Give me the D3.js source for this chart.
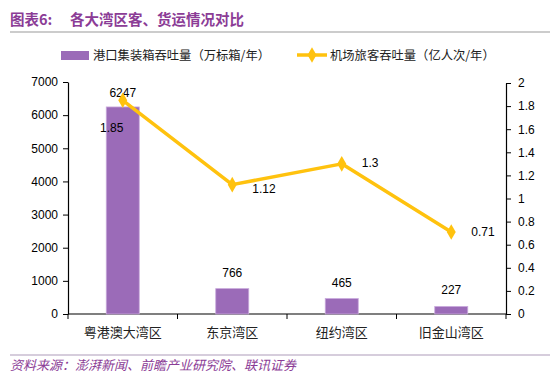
<!DOCTYPE html>
<html>
<head>
<meta charset="utf-8">
<script src="https://cdn.jsdelivr.net/npm/d3@7"></script>
<style>
  body { margin: 0; background: #fff; }
  svg { display: block; font-family: "Liberation Sans", "Noto Sans CJK SC", sans-serif; }
</style>
</head>
<body>
<div id="chart"></div>
<script>
// 数据
const categories = ["粤港澳大湾区", "东京湾区", "纽约湾区", "旧金山湾区"];
const portTeu = [6247, 766, 465, 227];          // 港口集装箱吞吐量（万标箱/年）
const airPassengers = [1.85, 1.12, 1.3, 0.71];  // 机场旅客吞吐量（亿人次/年）
const leftTicks = [0, 1000, 2000, 3000, 4000, 5000, 6000, 7000];
const rightTicks = [0, 0.2, 0.4, 0.6, 0.8, 1, 1.2, 1.4, 1.6, 1.8, 2];

const W = 550, H = 379;
const purple = "#9B6BB8";
const yellow = "#FFC20E";
const titleColor = "#8B3C96";
const cjk = '"Noto Sans CJK SC", sans-serif';

const svg = d3.select("#chart").append("svg")
    .attr("width", W).attr("height", H);

// 标题
svg.append("text").attr("x", 10).attr("y", 25)
    .attr("fill", titleColor).attr("font-size", 14.5).attr("font-weight", "bold")
    .attr("font-family", cjk).text("图表6:");
svg.append("text").attr("x", 70).attr("y", 25)
    .attr("fill", titleColor).attr("font-size", 14.5).attr("font-weight", "bold")
    .attr("font-family", cjk).text("各大湾区客、货运情况对比");
svg.append("line").attr("x1", 10).attr("x2", 550).attr("y1", 32).attr("y2", 32)
    .attr("stroke", "#bbb").attr("stroke-width", 1.5);

// 比例尺
const x = d3.scaleBand().domain(categories).range([68, 506]).paddingInner(0).paddingOuter(0);
const yL = d3.scaleLinear().domain([0, 7000]).range([314, 82]);
const yR = d3.scaleLinear().domain([0, 2]).range([314, 83]);

// 坐标轴
const axisStyle = g => {
    g.selectAll("path.domain").attr("stroke", "#000").attr("stroke-width", 1.2);
    g.selectAll(".tick line").attr("stroke", "#000");
    g.selectAll(".tick text").attr("font-size", 12).attr("fill", "#000")
        .attr("font-family", '"Liberation Sans", sans-serif');
};

svg.append("g").attr("transform", "translate(68,0)")
    .call(d3.axisLeft(yL).tickValues(leftTicks).tickSize(5).tickSizeOuter(0).tickPadding(5).tickFormat(d3.format("d")))
    .call(axisStyle);

svg.append("g").attr("transform", "translate(506,0)")
    .call(d3.axisRight(yR).tickValues(rightTicks).tickSize(5).tickSizeOuter(0).tickPadding(7).tickFormat(d => d3.format("~g")(d)))
    .call(axisStyle);

const xAxis = svg.append("g").attr("transform", "translate(0,314)");
xAxis.append("line").attr("x1", 68).attr("x2", 506).attr("stroke", "#000").attr("stroke-width", 1.2);
const bounds = categories.map(c => x(c)).concat([x.range()[1]]);
xAxis.selectAll("line.tk").data(bounds).join("line").attr("class", "tk")
    .attr("x1", d => d).attr("x2", d => d).attr("y1", 0).attr("y2", 5).attr("stroke", "#000");
xAxis.selectAll("text").data(categories).join("text")
    .attr("x", d => x(d) + x.bandwidth() / 2).attr("y", 23)
    .attr("text-anchor", "middle").attr("font-size", 13).attr("font-family", cjk)
    .attr("fill", "#222").text(d => d);

// 柱形
const barW = 33;
svg.selectAll("rect.bar").data(portTeu).join("rect").attr("class", "bar")
    .attr("x", (d, i) => x(categories[i]) + x.bandwidth() / 2 - barW / 2)
    .attr("y", d => yL(d)).attr("width", barW).attr("height", d => yL(0) - yL(d))
    .attr("fill", purple).attr("stroke", "#c9a9dc").attr("stroke-width", 0.8);

svg.selectAll("text.barlbl").data(portTeu).join("text").attr("class", "barlbl")
    .attr("x", (d, i) => x(categories[i]) + x.bandwidth() / 2)
    .attr("y", d => yL(d) - (d > 5000 ? 10 : 12))
    .attr("text-anchor", "middle").attr("font-size", 12).attr("fill", "#000")
    .text(d => d);

// 折线
const pts = airPassengers.map((v, i) => [x(categories[i]) + x.bandwidth() / 2, yR(v)]);
svg.append("path").datum(pts)
    .attr("d", d3.line())
    .attr("fill", "none").attr("stroke", yellow).attr("stroke-width", 3.5)
    .attr("stroke-linejoin", "round");

const diamond = d3.symbol().type(d3.symbolDiamond).size(70);
svg.selectAll("path.mk").data(pts).join("path").attr("class", "mk")
    .attr("transform", d => `translate(${d[0]},${d[1]})`)
    .attr("d", diamond).attr("fill", yellow);

const lineLblOff = [[-11, 32], [20, 8], [20, 3], [20, 4]];
svg.selectAll("text.linelbl").data(airPassengers).join("text").attr("class", "linelbl")
    .attr("x", (d, i) => pts[i][0] + lineLblOff[i][0])
    .attr("y", (d, i) => pts[i][1] + lineLblOff[i][1])
    .attr("text-anchor", (d, i) => i === 0 ? "middle" : "start")
    .attr("font-size", 12).attr("fill", "#000")
    .text(d => d);

// 图例
const lg = svg.append("g").attr("font-size", 12.3).attr("font-family", cjk).attr("fill", "#222");
lg.append("rect").attr("x", 61).attr("y", 51).attr("width", 28).attr("height", 9).attr("fill", purple);
lg.append("text").attr("x", 93).attr("y", 60).text("港口集装箱吞吐量（万标箱/年）");
lg.append("line").attr("x1", 297).attr("x2", 327).attr("y1", 55).attr("y2", 55)
    .attr("stroke", yellow).attr("stroke-width", 3.5);
lg.append("path").attr("transform", "translate(312,55)").attr("d", diamond).attr("fill", yellow);
lg.append("text").attr("x", 330).attr("y", 60).text("机场旅客吞吐量（亿人次/年）");

// 资料来源
svg.append("line").attr("x1", 10).attr("x2", 550).attr("y1", 355).attr("y2", 355)
    .attr("stroke", "#c8bcd0").attr("stroke-width", 1.5);
svg.append("text").attr("x", 10).attr("y", 370)
    .attr("fill", titleColor).attr("font-size", 13).attr("font-style", "italic")
    .attr("font-family", cjk).text("资料来源：澎湃新闻、前瞻产业研究院、联讯证券");
</script>
</body>
</html>
